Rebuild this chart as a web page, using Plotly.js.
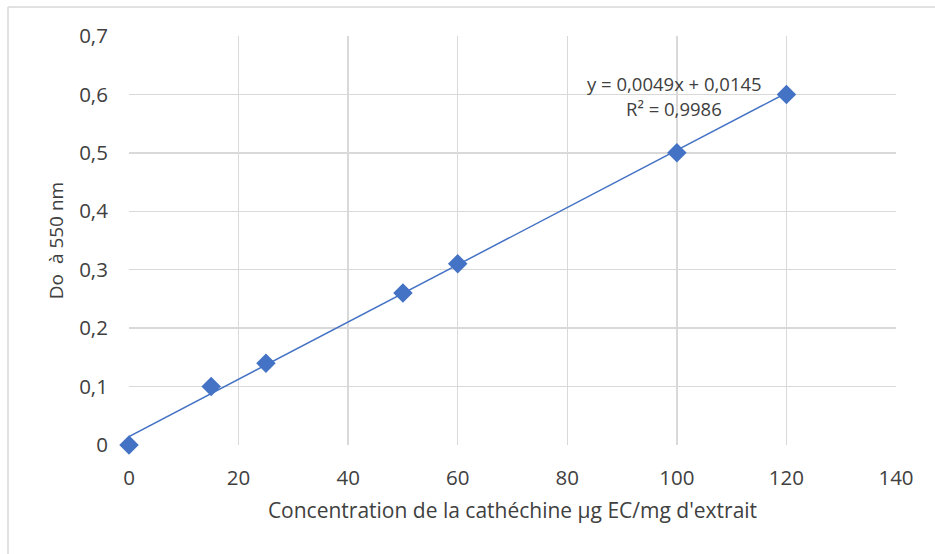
<!DOCTYPE html>
<html>
<head>
<meta charset="utf-8">
<script src="https://cdn.plot.ly/plotly-3.0.1.min.js"></script>
<style>html,body{margin:0;padding:0;background:#fff;}#chart{width:935px;height:554px;}</style>
</head>
<body>
<div id="chart"></div>
<script>
// Data
const concentration = [0, 15, 25, 50, 60, 100, 120];
const absorbance = [0, 0.1, 0.14, 0.26, 0.31, 0.5, 0.6];
// Linear trendline shown in the reference (Excel): y = slope*x + intercept
const trendSlope = 0.0049;
const trendIntercept = 0.0145;
const trendRange = [0, 120];
const equationLabel = "y = 0,0049x + 0,0145";
const r2Label = "R² = 0,9986";
const xTitle = "Concentration de la cathéchine µg EC/mg d'extrait";
const yTitle = "Do  à 550 nm";

const blue = '#4472C4';
const txt = '#404040';
const font = '"Open Sans", "Noto Sans", sans-serif';

const traces = [
  {
    x: trendRange,
    y: trendRange.map(v => trendSlope * v + trendIntercept),
    mode: 'lines',
    line: {color: blue, width: 1.5},
    hoverinfo: 'skip',
    showlegend: false,
    cliponaxis: false
  },
  {
    x: concentration,
    y: absorbance,
    mode: 'markers',
    marker: {symbol: 'diamond', size: 15, color: blue},
    showlegend: false,
    cliponaxis: false
  }
];

const layout = {
  width: 935, height: 554,
  margin: {l: 129, r: 39, t: 36, b: 109},
  paper_bgcolor: '#fff', plot_bgcolor: '#fff',
  separators: ', ',
  font: {family: font, color: txt, size: 18},
  xaxis: {
    range: [0, 140], dtick: 20, tick0: 0,
    showgrid: true, gridcolor: '#d9d9d9', gridwidth: 1.5,
    zeroline: false, showline: false,
    ticks: 'outside', ticklen: 14, tickcolor: 'rgba(0,0,0,0)',
    tickfont: {size: 20.5, color: txt, family: font},
    title: {text: xTitle, font: {size: 21, color: txt, family: font}, standoff: 13}
  },
  yaxis: {
    range: [0, 0.7], dtick: 0.1, tick0: 0,
    showgrid: true, gridcolor: '#d9d9d9', gridwidth: 1.5,
    zeroline: false, showline: false,
    ticks: 'outside', ticklen: 16, tickcolor: 'rgba(0,0,0,0)',
    tickfont: {size: 20.5, color: txt, family: font},
    title: {text: yTitle, font: {size: 19, color: txt, family: font}, standoff: 10}
  },
  annotations: [
    {xref: 'paper', yref: 'paper', x: (674-129)/767, y: (445-83)/409,
     text: equationLabel, showarrow: false, xanchor: 'center', yanchor: 'middle',
     font: {size: 18.5, color: txt, family: font}},
    {xref: 'paper', yref: 'paper', x: (674-129)/767, y: (445-108)/409,
     text: r2Label, showarrow: false, xanchor: 'center', yanchor: 'middle',
     font: {size: 18.5, color: txt, family: font}}
  ],
  shapes: [
    {type: 'line', xref: 'paper', yref: 'paper', x0: (8-129)/767, x1: (935-129)/767,
     y0: (445-7)/409, y1: (445-7)/409, line: {color: '#d9d9d9', width: 1.5}},
    {type: 'line', xref: 'paper', yref: 'paper', x0: (8-129)/767, x1: (8-129)/767,
     y0: (445-7)/409, y1: (445-554)/409, line: {color: '#d9d9d9', width: 1.5}}
  ]
};

Plotly.newPlot('chart', traces, layout, {staticPlot: true, displayModeBar: false});
</script>
</body>
</html>
